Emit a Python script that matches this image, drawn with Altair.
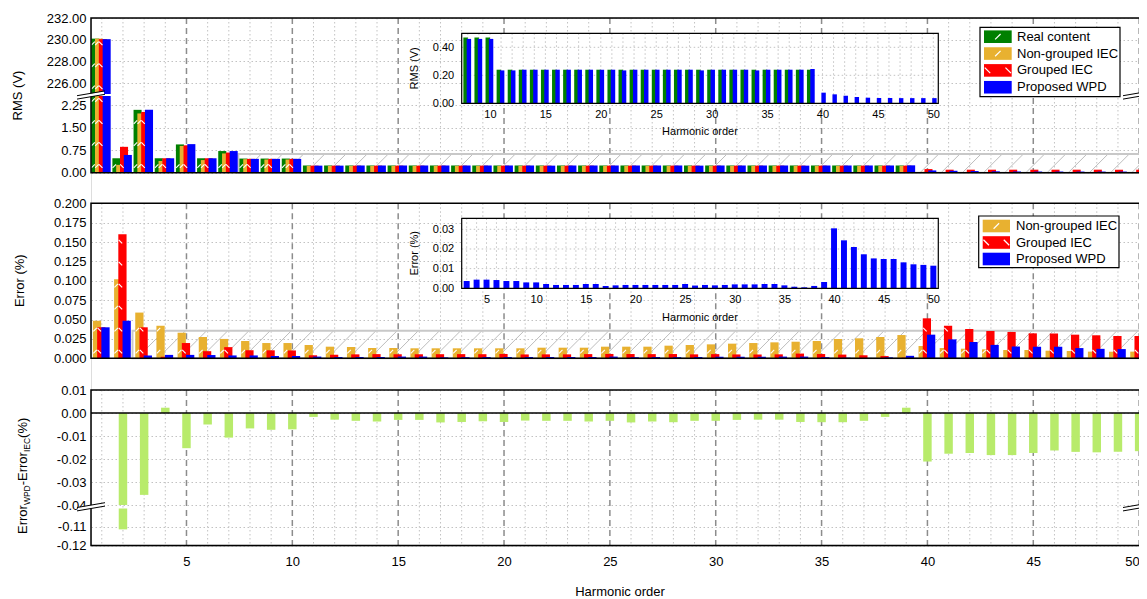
import altair as alt
import pandas as pd

# ---------------- data ----------------
harmonics = list(range(1, 51))

series_rms = ["Real content", "Non-grouped IEC", "Grouped IEC", "Proposed WPD"]
series_err = ["Non-grouped IEC", "Grouped IEC", "Proposed WPD"]
series_colors = ["#008000", "#E8B130", "#FF0000", "#0000FF"]

rms_real = [230.10, 0.48, 2.09, 0.48, 0.94, 0.48, 0.72, 0.47, 0.47, 0.47,
            0.24, 0.24, 0.24, 0.24, 0.24, 0.24, 0.24, 0.24, 0.24, 0.24,
            0.24, 0.24, 0.24, 0.24, 0.24, 0.24, 0.24, 0.24, 0.24, 0.24,
            0.24, 0.24, 0.24, 0.24, 0.24, 0.24, 0.24, 0.24, 0.24, 0.0,
            0.0, 0.0, 0.0, 0.0, 0.0, 0.0, 0.0, 0.0, 0.0, 0.0]
rms_nongrouped = [230.10, 0.26, 1.97, 0.39, 0.89, 0.42, 0.64, 0.45, 0.44, 0.44,
                  0.225, 0.225, 0.225, 0.225, 0.225, 0.225, 0.225, 0.225, 0.225, 0.225,
                  0.225, 0.225, 0.225, 0.225, 0.225, 0.225, 0.225, 0.225, 0.225, 0.225,
                  0.225, 0.225, 0.225, 0.225, 0.225, 0.225, 0.225, 0.225, 0.225, 0.03,
                  0.01, 0.01, 0.01, 0.01, 0.01, 0.01, 0.01, 0.01, 0.01, 0.01]
rms_grouped = [230.05, 0.86, 2.02, 0.48, 0.91, 0.48, 0.67, 0.46, 0.46, 0.46,
               0.235, 0.235, 0.235, 0.235, 0.235, 0.235, 0.235, 0.235, 0.235, 0.235,
               0.235, 0.235, 0.235, 0.235, 0.235, 0.235, 0.235, 0.235, 0.235, 0.235,
               0.235, 0.235, 0.235, 0.235, 0.235, 0.235, 0.235, 0.235, 0.235, 0.12,
               0.10, 0.10, 0.10, 0.10, 0.10, 0.10, 0.10, 0.10, 0.10, 0.10]
rms_wpd = [230.05, 0.59, 2.09, 0.48, 0.95, 0.48, 0.72, 0.46, 0.46, 0.46,
           0.235, 0.235, 0.24, 0.24, 0.24, 0.24, 0.24, 0.24, 0.24, 0.24,
           0.24, 0.235, 0.24, 0.24, 0.24, 0.24, 0.24, 0.24, 0.235, 0.24,
           0.24, 0.24, 0.24, 0.235, 0.24, 0.24, 0.24, 0.24, 0.245, 0.076,
           0.064, 0.054, 0.045, 0.040, 0.038, 0.038, 0.037, 0.037, 0.037, 0.037]

err_nongrouped = [0.0485, 0.102, 0.059, 0.042, 0.033, 0.0275, 0.025, 0.0223, 0.0197, 0.0197,
                  0.0172, 0.015, 0.0146, 0.0133, 0.0133, 0.0129, 0.0129, 0.0129, 0.0129, 0.0129,
                  0.0129, 0.0137, 0.0137, 0.0137, 0.015, 0.015, 0.015, 0.0163, 0.0172, 0.018,
                  0.0189, 0.0197, 0.0206, 0.0214, 0.0223, 0.0249, 0.0258, 0.0275, 0.030, 0.0159,
                  0.0133, 0.0124, 0.0116, 0.0107, 0.0107, 0.0098, 0.0094, 0.0086, 0.0086, 0.0086]
err_grouped = [0.040, 0.160, 0.040, 0.002, 0.0197, 0.0092, 0.0144, 0.0104, 0.0103, 0.0101,
               0.0039, 0.0046, 0.0051, 0.0054, 0.0052, 0.0052, 0.0053, 0.0054, 0.0053, 0.0056,
               0.0050, 0.0051, 0.0051, 0.0054, 0.0056, 0.0055, 0.0054, 0.0055, 0.0051, 0.0054,
               0.0050, 0.0049, 0.0051, 0.0061, 0.0055, 0.0048, 0.0039, 0.0029, 0.0009, 0.0516,
               0.042, 0.0378, 0.0352, 0.034, 0.0322, 0.032, 0.0305, 0.0297, 0.0288, 0.0288]
err_wpd = [0.040, 0.0485, 0.0037, 0.0044, 0.0044, 0.0042, 0.0037, 0.0037, 0.0030, 0.0030,
           0.0022, 0.0017, 0.0017, 0.0017, 0.0022, 0.0022, 0.0012, 0.0015, 0.0017, 0.0017,
           0.0017, 0.0017, 0.0017, 0.0017, 0.0022, 0.0014, 0.0017, 0.0015, 0.0017, 0.0020,
           0.0020, 0.0020, 0.0022, 0.0022, 0.0015, 0.0008, 0.0005, 0.0012, 0.0032, 0.0305,
           0.0244, 0.0210, 0.0173, 0.0152, 0.0149, 0.0149, 0.0132, 0.0122, 0.0119, 0.0115]

diff_wpd_iec = [0.0, -0.1115, -0.0356, 0.0023, -0.0153, -0.0050, -0.0107, -0.0067, -0.0073, -0.0071,
                -0.0017, -0.0029, -0.0034, -0.0037, -0.0030, -0.0030, -0.0041, -0.0039, -0.0036, -0.0039,
                -0.0033, -0.0034, -0.0034, -0.0037, -0.0034, -0.0041, -0.0037, -0.0040, -0.0034, -0.0034,
                -0.0030, -0.0029, -0.0029, -0.0039, -0.0040, -0.0040, -0.0034, -0.0017, 0.0023, -0.0211,
                -0.0177, -0.0174, -0.0183, -0.0183, -0.0174, -0.0163, -0.0169, -0.0171, -0.0169, -0.0166]

x_tick_labels = [5, 10, 15, 20, 25, 30, 35, 40, 45, 50]
inset1_x_labels = [10, 15, 20, 25, 30, 35, 40, 45, 50]
inset2_x_labels = [5, 10, 15, 20, 25, 30, 35, 40, 45, 50]
rms_upper_ticks = [226, 228, 230, 232]
rms_lower_ticks = [0, 0.75, 1.5, 2.25]
err_ticks = [0, 0.025, 0.05, 0.075, 0.1, 0.125, 0.15, 0.175, 0.2]
diff_upper_ticks = [0.01, 0, -0.01, -0.02, -0.03, -0.04]
diff_lower_ticks = [-0.11, -0.12]
inset1_y_ticks = [0, 0.2, 0.4]
inset2_y_ticks = [0, 0.01, 0.02, 0.03]

# ---------------- tables ----------------
rms_df = pd.DataFrame([{"h": h, "series": s, "k": k, "v": vals[i]}
                       for k, (s, vals) in enumerate(zip(series_rms, [rms_real, rms_nongrouped, rms_grouped, rms_wpd]))
                       for i, h in enumerate(harmonics)])
err_df = pd.DataFrame([{"h": h, "series": s, "k": k, "v": vals[i]}
                       for k, (s, vals) in enumerate(zip(series_err, [err_nongrouped, err_grouped, err_wpd]))
                       for i, h in enumerate(harmonics)])
diff_df = pd.DataFrame({"h": harmonics, "d": diff_wpd_iec})
h_df = pd.DataFrame({"h": harmonics})
one = pd.DataFrame({"z": [0]})

# ---------------- layout (group coords = page - (91, 18)) ----------------
FONT = "Liberation Sans"
GRID = "#c2c2c2"
DASHC = "#8c8c8c"
W, H = 1048, 528
PX = 21.17
XD = [0.49, 50.55]
XR = [0, (XD[1] - XD[0]) * PX]
XEND = XR[1]

P1 = (0, 154.7)
P2 = (185.3, 340.3)
P3 = (372, 527.5)
Y1U = ([225, 232], [76, 0])
Y1L = ([0, 2.55], [154.7, 78])
Y2 = ([0, 0.2], [340.3, 185.3])
Y3U = ([-0.04, 0.01], [487, 372])
Y3L = ([-0.12, -0.1005], [527.5, 490.5])
I1X = ([7.45, 50.45], [370.7, 847.3])
I1Y = ([0, 0.5], [85.3, 15.3])
I2X = ([2.5, 50.5], [370.7, 847.3])
I2Y = ([0, 0.0356], [270.3, 200.3])

SLASH = "M-1,1L1,-1"
BACKSLASH = "M-1,-1L1,1"
HATCH_PX = 22.0

CS = alt.Scale(domain=series_rms, range=series_colors)
F2 = "format(datum.value, '.2f')"
F3 = "format(datum.value, '.3f')"
FNEG = "(datum.value < 0 ? '-' : '') + format(abs(datum.value), '.2f')"


def sc(d, r, clamp=False):
    return alt.Scale(domain=d, range=r, clamp=clamp, nice=False, zero=False)


def yaxis(values, expr, size=13, grid=True, offset=0, pad=5, z=0):
    return alt.Axis(orient="left", values=values, labelExpr=expr, grid=grid, gridColor=GRID,
                    gridDash=[1.5, 2.5], gridWidth=1, domain=False, ticks=False, labelPadding=pad,
                    labelFontSize=size, labelColor="black", labelFont=FONT, title=None,
                    labelOverlap=False, labelFlush=False, offset=offset, zindex=z)


def xaxis(values, size=13, offset=0, pad=9, z=0, last_right=False):
    kw = {}
    if last_right:
        kw["labelAlign"] = {"condition": {"test": "datum.value == %d" % values[-1], "value": "right"},
                            "value": "center"}
    return alt.Axis(orient="bottom", values=values, format="d", grid=False, domain=False, ticks=False,
                    labelPadding=pad, labelFontSize=size, labelColor="black", labelFont=FONT,
                    title=None, labelOverlap=False, labelFlush=False, offset=offset, zindex=z, **kw)


def px_per_unit(ys):
    (d, r) = ys
    return abs(r[0] - r[1]) / (d[1] - d[0])


layers = []

# vertical grid per panel
for top, bot in (P1, P2, P3):
    layers.append(alt.Chart(h_df).transform_filter("datum.h % 5 != 0").mark_rule(
        color=GRID, strokeDash=[1.5, 2.5], strokeWidth=1).encode(
        x=alt.X("h:Q", scale=sc(XD, XR), axis=None), y=alt.value(top), y2=alt.value(bot)))
    layers.append(alt.Chart(h_df).transform_filter("datum.h % 5 == 0").mark_rule(
        color=DASHC, strokeDash=[6, 4], strokeWidth=1.5).encode(
        x=alt.X("h:Q", scale=sc(XD, XR), axis=None), y=alt.value(top), y2=alt.value(bot)))


# hatched zoom bands
def band(x0, x1, ytop, yscale):
    dx = ytop * px_per_unit(yscale) / PX
    rect = alt.Chart(one).transform_calculate(a=str(x0), b=str(x1), c=str(ytop)).mark_rect(
        fillOpacity=0, stroke="#c8c8c8", strokeWidth=2).encode(
        x=alt.X("a:Q", scale=sc(XD, XR), axis=None), x2="b:Q",
        y=alt.Y("c:Q", scale=sc(*yscale), axis=None), y2="z:Q")
    hatch = alt.Chart(alt.sequence(x0 + 0.2, x1 - dx, 1.0, as_="s")).transform_calculate(
        s2="datum.s + %f" % dx, y0="0", y1=str(ytop)).mark_rule(color="#bdbdbd", strokeWidth=1).encode(
        x=alt.X("s:Q", scale=sc(XD, XR), axis=None), x2="s2:Q",
        y=alt.Y("y0:Q", scale=sc(*yscale), axis=None), y2="y1:Q")
    return [hatch, rect]


layers += band(7.45, 50.55, 0.62, Y1L)
layers += band(2.45, 50.55, 0.0356, Y2)


# white hatch dashes inside bars (visible strip of each bar)
def bar_hatch(df, k, xoff, yscale, shape, base=0.0, lo_filter=None, top_limit=None):
    step = HATCH_PX / px_per_unit(yscale)
    ch = alt.Chart(df).transform_filter("datum.k == %d" % k)
    if lo_filter is not None:
        ch = ch.transform_filter("datum.v > %f" % lo_filter)
    lim = "datum.v" if top_limit is None else "min(datum.v, %f)" % top_limit
    ch = ch.transform_calculate(
        lim=lim,
        seq="sequence(0, ceil((%s - %f) / %f) + 1)" % (lim, base, step)
    ).transform_flatten(["seq"]).transform_calculate(
        yy="%f + (datum.seq + 0.3) * %f" % (base, step), xx="datum.h + %f" % xoff
    ).transform_filter("datum.yy < datum.lim - %f" % (2.0 / px_per_unit(yscale)))
    return ch.mark_point(shape=shape, filled=False, color="white", strokeWidth=1.1, size=12, opacity=1).encode(
        x=alt.X("xx:Q", scale=sc(XD, XR), axis=None),
        y=alt.Y("yy:Q", scale=sc(*yscale), axis=None))


# panel 1 bars (upper / lower part of the broken axis)
rms_base = alt.Chart(rms_df).transform_calculate(
    x0="datum.h - 0.5 + 0.18*datum.k", x1="datum.h - 0.12 + 0.18*datum.k")
layers.append(rms_base.transform_filter("datum.v > 225").mark_rect().encode(
    x=alt.X("x0:Q", scale=sc(XD, XR), axis=None), x2="x1:Q",
    y=alt.Y("v:Q", scale=sc(*Y1U, clamp=True), axis=yaxis(rms_upper_ticks, F2)),
    y2=alt.datum(0), color=alt.Color("series:N", scale=CS, legend=None)))
layers.append(rms_base.mark_rect().encode(
    x=alt.X("x0:Q", scale=sc(XD, XR), axis=None), x2="x1:Q",
    y=alt.Y("v:Q", scale=sc(*Y1L, clamp=True), axis=yaxis(rms_lower_ticks, F2)),
    y2=alt.datum(0), color=alt.Color("series:N", scale=CS, legend=None)))
for k, shape in ((0, SLASH), (1, SLASH), (2, BACKSLASH)):
    xoff = -0.41 + 0.18 * k
    layers.append(bar_hatch(rms_df, k, xoff, Y1L, shape, top_limit=2.5))
    layers.append(bar_hatch(rms_df, k, xoff, Y1U, shape, base=225.0, lo_filter=225))

# panel 2 bars
layers.append(alt.Chart(err_df).transform_calculate(
    x0="datum.h - 0.42 + 0.2*datum.k", x1="datum.h - 0.03 + 0.2*datum.k").mark_rect().encode(
    x=alt.X("x0:Q", scale=sc(XD, XR), axis=None), x2="x1:Q",
    y=alt.Y("v:Q", scale=sc(*Y2), axis=yaxis(err_ticks, F3)),
    y2=alt.datum(0), color=alt.Color("series:N", scale=CS, legend=None)))
for k, shape in ((0, SLASH), (1, BACKSLASH)):
    layers.append(bar_hatch(err_df, k, -0.32 + 0.2 * k, Y2, shape))

# panel 3 bars
diff_base = alt.Chart(diff_df).transform_calculate(x0="datum.h - 0.2", x1="datum.h + 0.2")
layers.append(diff_base.mark_rect(color="#B8EB6B").encode(
    x=alt.X("x0:Q", scale=sc(XD, XR), axis=xaxis(x_tick_labels, last_right=True)), x2="x1:Q",
    y=alt.Y("d:Q", scale=sc(*Y3U, clamp=True), axis=yaxis(diff_upper_ticks, FNEG)),
    y2=alt.datum(0)))
layers.append(diff_base.transform_filter("datum.d < -0.1005").mark_rect(color="#B8EB6B").encode(
    x=alt.X("x0:Q", scale=sc(XD, XR), axis=None), x2="x1:Q",
    y=alt.Y("d:Q", scale=sc(*Y3L, clamp=True), axis=yaxis(diff_lower_ticks, FNEG)),
    y2=alt.datum(0)))

# zero line of panel 3
layers.append(alt.Chart(one).mark_rule(color="black", strokeWidth=1.5).encode(
    y=alt.Y("z:Q", scale=sc(*Y3U), axis=None), x=alt.value(0), x2=alt.value(XEND)))

# frames
for top, bot in (P1, P2, P3):
    layers.append(alt.Chart(one).mark_rect(fillOpacity=0, stroke="black", strokeWidth=1.5).encode(
        x=alt.value(0), x2=alt.value(XEND), y=alt.value(top), y2=alt.value(bot)))


# axis breaks
def brk(cx, cy):
    out = [alt.Chart(one).mark_rule(color="white", strokeWidth=3).encode(
        x=alt.value(cx - 13), y=alt.value(cy + 2.3), x2=alt.value(cx + 13), y2=alt.value(cy - 2.3))]
    for d in (-1.7, 1.7):
        out.append(alt.Chart(one).mark_rule(color="black", strokeWidth=1).encode(
            x=alt.value(cx - 14), y=alt.value(cy + 2.4 + d), x2=alt.value(cx + 14), y2=alt.value(cy - 2.4 + d)))
    return out


for cx in (0, W - 2):
    layers += brk(cx, 77)
    layers += brk(cx, 488.8)


# insets
def inset(xs, ys, hmin, bars, xlabels, ylabels, yexpr):
    (xd, xr), (yd, yr) = xs, ys
    out = [alt.Chart(one).mark_rect(color="white").encode(
        x=alt.value(xr[0]), x2=alt.value(xr[1]), y=alt.value(yr[1]), y2=alt.value(yr[0]))]
    out.append(alt.Chart(h_df).transform_filter("datum.h >= %d" % hmin).mark_rule(
        color=GRID, strokeDash=[1.5, 2.5], strokeWidth=1).encode(
        x=alt.X("h:Q", scale=sc(xd, xr), axis=None), y=alt.value(yr[1]), y2=alt.value(yr[0])))
    out.append(alt.Chart(pd.DataFrame({"t": ylabels[1:]})).mark_rule(
        color=GRID, strokeDash=[1.5, 2.5], strokeWidth=1).encode(
        y=alt.Y("t:Q", scale=sc(yd, yr), axis=None), x=alt.value(xr[0]), x2=alt.value(xr[1])))
    out.append(bars.encode(
        x=alt.X("x0:Q", scale=sc(xd, xr), axis=xaxis(xlabels, size=11, offset=yr[0] - H, pad=5, z=1)),
        x2="x1:Q",
        y=alt.Y("v:Q", scale=sc(yd, yr), axis=yaxis(ylabels, yexpr, size=11, grid=False,
                                                      offset=-xr[0], pad=8, z=1)),
        y2=alt.datum(0)))
    out.append(alt.Chart(one).mark_rect(fillOpacity=0, stroke="black", strokeWidth=1.2).encode(
        x=alt.value(xr[0]), x2=alt.value(xr[1]), y=alt.value(yr[1]), y2=alt.value(yr[0])))
    return out


bars_i1 = alt.Chart(rms_df).transform_filter(
    "datum.h >= 8 && (datum.k == 0 || datum.k == 3)").transform_calculate(
    x0="datum.k == 0 ? datum.h - 0.4 : datum.h - 0.1",
    x1="datum.k == 0 ? datum.h : datum.h + 0.3").mark_rect().encode(
    color=alt.Color("series:N", scale=CS, legend=None))
layers += inset(I1X, I1Y, 8, bars_i1, inset1_x_labels, inset1_y_ticks, F2)

bars_i2 = alt.Chart(err_df).transform_filter("datum.h >= 3 && datum.k == 2").transform_calculate(
    x0="datum.h - 0.3", x1="datum.h + 0.3").mark_rect(color="#0000FF")
layers += inset(I2X, I2Y, 3, bars_i2, inset2_x_labels, inset2_y_ticks, F2)


# legends
def legend(names, box, first, step, sw_x, tx):
    df = pd.DataFrame({"series": names, "i": list(range(len(names)))})
    out = [alt.Chart(one).mark_rect(fill="white", stroke="black", strokeWidth=1.2).encode(
        x=alt.value(box[0]), x2=alt.value(box[1]), y=alt.value(box[2]), y2=alt.value(box[3]))]
    base = alt.Chart(df).transform_calculate(
        py="%f + datum.i * %f" % (first, step),
        py0="%f + datum.i * %f - 6.3" % (first, step),
        py1="%f + datum.i * %f + 6.3" % (first, step))
    out.append(base.mark_rect().encode(
        x=alt.value(sw_x[0]), x2=alt.value(sw_x[1]),
        y=alt.Y("py0:Q", scale=None, axis=None), y2="py1:Q",
        color=alt.Color("series:N", scale=CS, legend=None)))
    cx = (sw_x[0] + sw_x[1]) / 2
    # swatch hatch: "/" in the middle for green and orange, "\" at both ends for red
    out.append(base.transform_filter("datum.series == 'Real content' || datum.series == 'Non-grouped IEC'")
               .mark_point(shape=SLASH, filled=False, color="white", strokeWidth=1.2, size=30, opacity=1)
               .encode(x=alt.value(cx), y=alt.Y("py:Q", scale=None, axis=None)))
    for ex in (sw_x[0] + 3.5, sw_x[1] - 3.5):
        out.append(base.transform_filter("datum.series == 'Grouped IEC'")
                   .mark_point(shape=BACKSLASH, filled=False, color="white", strokeWidth=1.2, size=30, opacity=1)
                   .encode(x=alt.value(ex), y=alt.Y("py:Q", scale=None, axis=None)))
    out.append(base.mark_text(align="left", baseline="middle", fontSize=13, font=FONT, color="black").encode(
        x=alt.value(tx), y=alt.Y("py:Q", scale=None, axis=None), text="series:N"))
    return out


layers += legend(series_rms, (889, 1029, 9.3, 78.7), 18.7, 16.85, (893, 920.7), 926)
layers += legend(series_err, (887.7, 1028, 198, 249.7), 208, 16.5, (891.7, 919), 925)


# titles
def txt(s, x, y, size=13, angle=0, align="center", baseline="middle"):
    kw = dict(text=s, fontSize=size, font=FONT, color="black", align=align, baseline=baseline)
    if angle:
        kw["angle"] = angle
    return alt.Chart(one).mark_text(**kw).encode(x=alt.value(x), y=alt.value(y))


layers.append(txt("RMS (V)", -73, 77.5, angle=270))
layers.append(txt("Error (%)", -71.5, 262.7, angle=270))
layers.append(txt("Harmonic order", 529, 574))
layers.append(txt("RMS (V)", 324, 50.3, size=11, angle=270))
layers.append(txt("Harmonic order", 609, 113.7, size=11))
layers.append(txt("Error (%)", 324, 235.3, size=11, angle=270))
layers.append(txt("Harmonic order", 609, 299.5, size=11))
# Error_WPD - Error_IEC (%) with subscripts
for s, size, bx, y in [("Error", 13, -64.5, 516), ("WPD", 8.5, -61.5, 487.1), ("-Error", 13, -64.5, 467.3),
                       ("IEC", 8.5, -61.5, 434.1), (" (%)", 13, -64.5, 419.9)]:
    layers.append(txt(s, bx, y, size=size, angle=270, align="left", baseline="alphabetic"))

chart = alt.layer(*layers).resolve_scale(x="independent", y="independent").properties(
    width=W, height=H, autosize=alt.AutoSizeParams(type="none"),
    padding={"left": 83, "top": 10, "right": 0, "bottom": 55}, background="white"
).configure_view(strokeWidth=0).configure(font=FONT)

chart.save("out.html", embed_options={"renderer": "svg", "actions": False})
